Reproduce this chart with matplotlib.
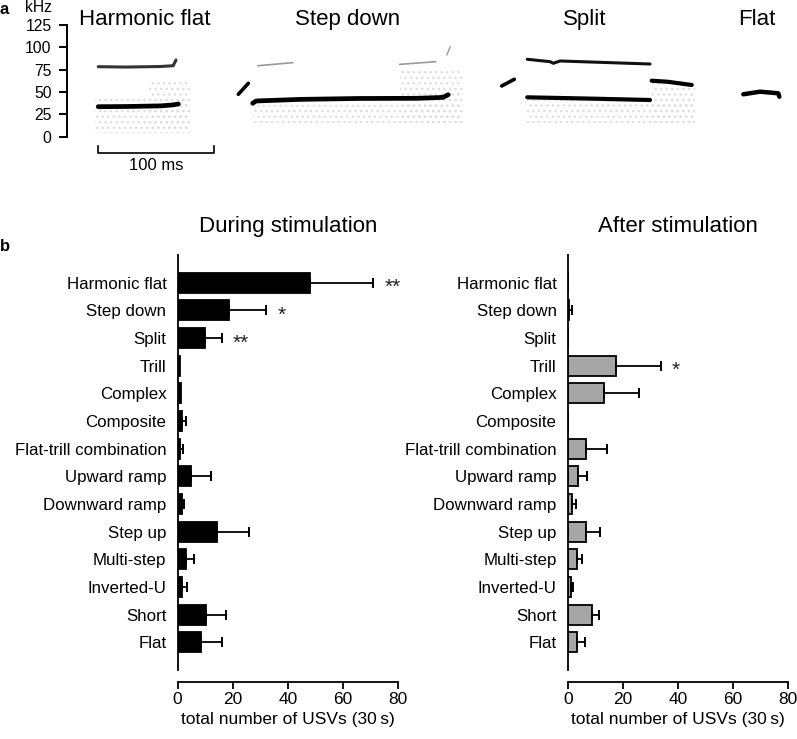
import numpy as np
import matplotlib
matplotlib.use('Agg')
import matplotlib.pyplot as plt
from matplotlib.patches import Rectangle

plt.rcParams['font.family'] = ['Liberation Sans', 'DejaVu Sans']

# ---- panel b data ----
call_types = ['Harmonic flat', 'Step down', 'Split', 'Trill', 'Complex', 'Composite',
              'Flat-trill combination', 'Upward ramp', 'Downward ramp', 'Step up',
              'Multi-step', 'Inverted-U', 'Short', 'Flat']
during_mean = [48.0, 18.6, 10.1, 0.9, 1.2, 1.5, 0.9, 4.8, 1.5, 14.4, 3.0, 1.8, 10.4, 8.6]
during_err = [22.9, 13.6, 5.9, 0.0, 0.0, 1.6, 1.0, 7.2, 1.0, 11.5, 3.1, 1.5, 7.2, 7.5]
during_sig = ['**', '*', '**', '', '', '', '', '', '', '', '', '', '', '']
after_mean = [0.0, 0.6, 0.0, 17.5, 13.1, 0.0, 6.5, 3.7, 1.6, 6.6, 3.4, 1.2, 8.7, 3.4]
after_err = [0.0, 0.9, 0.0, 16.2, 12.8, 0.0, 7.6, 3.4, 1.3, 5.1, 1.7, 0.6, 2.7, 3.0]
after_sig = ['', '', '', '*', '', '', '', '', '', '', '', '', '', '']
x_ticks = [0, 20, 40, 60, 80]

# ---- panel a: example call contours (time in ms, frequency in kHz) ----
example_names = ['Harmonic flat', 'Step down', 'Split', 'Flat']
example_centers = [67, 240, 444, 591]
contours = [
    # harmonic flat
    ([26.8, 50, 80, 90, 95.4], [33.6, 33.8, 34.5, 35.5, 36.6], 3.4, 'black'),
    ([26.8, 50, 80, 91, 93.4], [78.4, 78.0, 78.6, 79.5, 85.9], 2.2, '#333333'),
    # step down
    ([146.8, 155.4], [47.5, 59.8], 2.6, 'black'),
    ([159.1, 162, 200, 250, 300, 322, 326.7], [37.4, 40.0, 41.8, 42.8, 43.0, 44.0, 47.0], 3.4, 'black'),
    ([163.5, 193.5], [79.5, 82.9], 1.2, '#999999'),
    ([285, 316], [81.0, 84.0], 1.2, '#999999'),
    ([325.5, 328.4], [91.5, 100.8], 1.0, '#999999'),
    # split
    ([372.5, 383.3], [56.8, 64.3], 2.6, 'black'),
    ([394.4, 414, 416.7, 422.4, 499.6], [86.7, 84.0, 82.2, 84.8, 81.4], 2.2, '#111111'),
    ([394.4, 450, 499.6], [44.1, 42.6, 41.1], 3.0, 'black'),
    ([501, 515, 535.3], [62.7, 61.5, 57.9], 3.0, 'black'),
    # flat
    ([579.5, 593.8, 609.5, 610.4], [47.5, 50.4, 48.6, 44.8], 3.2, 'black'),
]
noise_boxes = [(24, 4, 81, 38), (70, 4, 35, 60), (159, 15, 180, 20), (285, 15, 54, 60),
               (394, 15, 144, 26), (501, 15, 37, 45)]

fig = plt.figure(figsize=(7.97, 7.39), dpi=100)
W, H = 797.0, 739.0

# panel a axes: 0 kHz at y=136.7 px, 0.893 px/kHz ; 1.167 px/ms from x=67 px
ylo, yhi = -45, 140
top_px = 136.7 - yhi * 0.893
bot_px = 136.7 - ylo * 0.893
xmax = (795 - 67) / 1.167
ax_a = fig.add_axes([67 / W, 1 - bot_px / H, (795 - 67) / W, (bot_px - top_px) / H])
ax_a.set_xlim(0, xmax)
ax_a.set_ylim(ylo, yhi)
for (x0, y0, w, h) in noise_boxes:
    ax_a.add_patch(Rectangle((x0, y0), w, h, facecolor='none', edgecolor='#dedede',
                             hatch='...', lw=0))
for xs, ys, lw, c in contours:
    ax_a.plot(xs, ys, color=c, lw=lw, solid_capstyle='round')
for name, cx in zip(example_names, example_centers):
    ax_a.text(cx, 125, name, ha='center', va='baseline', fontsize=16, clip_on=False)
# scale bar
ax_a.plot([26.3, 26.3, 126.3, 126.3], [-10, -18.6, -18.6, -10], color='black', lw=1.2)
ax_a.text(76.3, -37.5, '100 ms', ha='center', va='baseline', fontsize=12)
for s in ['top', 'right', 'bottom']:
    ax_a.spines[s].set_visible(False)
ax_a.spines['left'].set_bounds(0, 125)
ax_a.spines['left'].set_linewidth(1.4)
ax_a.set_yticks([0, 25, 50, 75, 100, 125])
ax_a.set_xticks([])
ax_a.tick_params(axis='y', direction='out', length=6, width=1.4, pad=5, labelsize=11.3)
fig.text(25 / W, 1 - 12 / H, 'kHz', fontsize=11.3, va='baseline')
fig.text(0, 1 - 14 / H, 'a', fontsize=12, fontweight='bold', va='baseline')
fig.text(0, 1 - 251.5 / H, 'b', fontsize=12, fontweight='bold', va='baseline')

# panel b axes
ax_top, ax_bot = 255, 670
ax_l = fig.add_axes([177.5 / W, 1 - ax_bot / H, 220.8 / W, (ax_bot - ax_top) / H])
ax_r = fig.add_axes([567.7 / W, 1 - ax_bot / H, 220.6 / W, (ax_bot - ax_top) / H])

ypos = np.arange(len(call_types))
panels = [(ax_l, during_mean, during_err, during_sig, 'black', 'During stimulation'),
          (ax_r, after_mean, after_err, after_sig, '#a6a6a6', 'After stimulation')]
for ax, means, errs, sig, color, title in panels:
    ax.barh(ypos, means, height=0.72, color=color, edgecolor='black', linewidth=1.3)
    means = np.array(means)
    errs = np.array(errs)
    m = errs > 0
    ax.errorbar(means[m], ypos[m], xerr=[np.zeros(m.sum()), errs[m]], fmt='none',
                ecolor='black', elinewidth=1.3, capsize=3.6, capthick=1.4)
    for i, s in enumerate(sig):
        if s:
            ax.annotate(s, (means[i] + errs[i], ypos[i]), xytext=(8, -3.5),
                        textcoords='offset points', ha='left', va='center',
                        fontsize=15, color='#222222')
    ax.set_xlim(0, 80)
    ax.set_ylim(14.0, -1.0)
    ax.set_yticks(ypos)
    ax.set_yticklabels(call_types)
    ax.set_xticks(x_ticks)
    ax.tick_params(axis='y', length=0, pad=8, labelsize=12.2)
    ax.tick_params(axis='x', direction='out', length=4.8, width=1.3, pad=3, labelsize=12.5)
    for s in ['top', 'right']:
        ax.spines[s].set_visible(False)
    ax.spines['bottom'].set_position(('outward', 8.4))
    ax.spines['left'].set_linewidth(1.3)
    ax.spines['bottom'].set_linewidth(1.3)
    ax.set_xlabel('total number of USVs (30\u2009s)', fontsize=12.5, labelpad=3)
    ax.set_title(title, fontsize=16, pad=16.5)

fig.savefig('out.png', dpi=100)
